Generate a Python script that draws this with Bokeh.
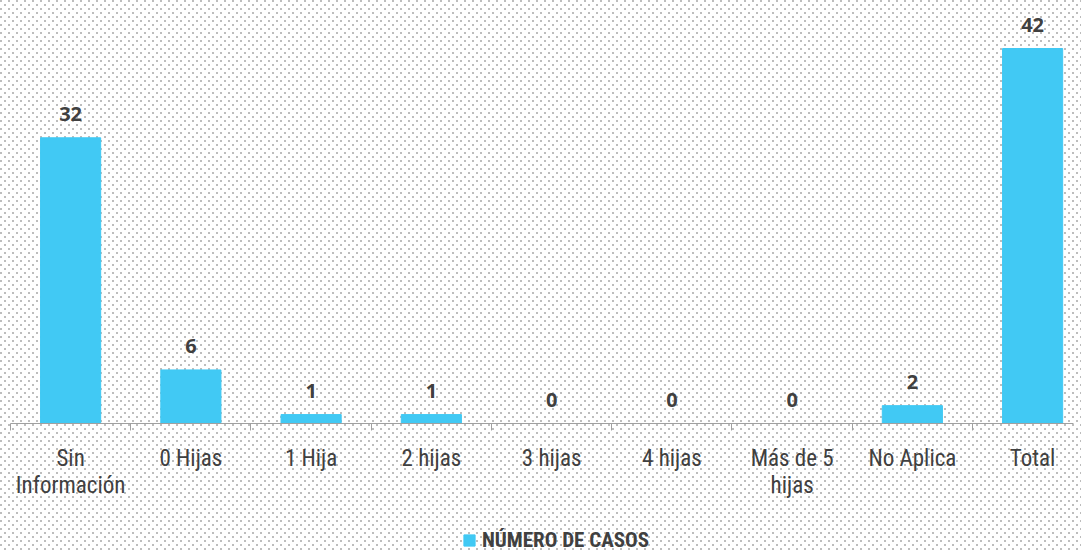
from urllib.parse import quote
from bokeh.plotting import figure
from bokeh.layouts import column
from bokeh.core.properties import value
from bokeh.models import (Range1d, FixedTicker, ColumnDataSource, LabelSet,
                          Legend, LegendItem)
from bokeh.embed import file_html
from bokeh.resources import INLINE

# ---- data ----
categories = ["Sin\nInformación", "0 Hijas", "1 Hija", "2 hijas", "3 hijas",
              "4 hijas", "Más de 5\nhijas", "No Aplica", "Total"]
values = [32, 6, 1, 1, 0, 0, 0, 2, 42]
series_name = "NÚMERO DE CASOS"

BAR = "#41C9F4"
TXT = "#404040"
COND = "Roboto Condensed"

xs = list(range(len(categories)))
src = ColumnDataSource(dict(x=xs, value=values, label=[str(v) for v in values]))

p = figure(width=1081, height=515, x_range=Range1d(-0.5, 8.34),
           y_range=Range1d(0, 46.48), output_backend="svg",
           toolbar_location=None, y_axis_location=None,
           min_border_left=10, min_border_right=8, min_border_top=8,
           min_border_bottom=92)
p.background_fill_color = None
p.border_fill_color = None
p.outline_line_color = None
p.grid.visible = False

r = p.vbar(x="x", top="value", width=0.5, source=src, color=BAR)

labels = LabelSet(x="x", y="value", text="label", source=src, y_offset=17,
                  text_align="center", text_baseline="alphabetic",
                  text_font=value("Open Sans"), text_font_style="bold",
                  text_font_size="20px", text_color=TXT)
p.add_layout(labels)

ax = p.xaxis[0]
ax.ticker = FixedTicker(ticks=xs, minor_ticks=[i - 0.5 for i in range(len(xs) + 1)])
ax.major_label_overrides = {i: c for i, c in zip(xs, categories)}
ax.major_tick_out = 0
ax.major_tick_in = 0
ax.minor_tick_out = 7
ax.minor_tick_in = 0
ax.minor_tick_line_color = "#a0a0a0"
ax.axis_line_color = "#a0a0a0"
ax.major_label_standoff = 14
ax.major_label_text_font = COND
ax.major_label_text_font_size = "23px"
ax.major_label_text_line_height = 1.02
ax.major_label_text_color = TXT

# legend strip below the chart (same series; its bars lie below this strip's y range)
p2 = figure(width=1081, height=37, x_range=Range1d(-0.5, 8.34), y_range=Range1d(50, 51),
            output_backend="svg", toolbar_location=None,
            x_axis_location=None, y_axis_location=None,
            min_border_left=0, min_border_right=0, min_border_top=0,
            min_border_bottom=0)
p2.background_fill_color = None
p2.border_fill_color = None
p2.outline_line_color = None
p2.grid.visible = False
r2 = p2.vbar(x="x", top="value", width=0.5, color=BAR, source=src)

legend = Legend(items=[LegendItem(label=series_name, renderers=[r2])],
                location=(452, 0), orientation="horizontal",
                border_line_color=None, background_fill_alpha=0,
                glyph_width=14, glyph_height=14, label_standoff=6,
                label_text_font=COND, label_text_font_style="bold",
                label_text_font_size="21px", label_text_color=TXT,
                label_text_line_height=1.0,
                padding=0, margin=0, spacing=0)
p2.add_layout(legend)

svg = ("<svg xmlns='http://www.w3.org/2000/svg' width='8' height='8'>"
       "<rect x='0' y='0' width='2' height='2' fill='#bdbdbd'/>"
       "<rect x='4' y='4' width='2' height='2' fill='#bdbdbd'/></svg>")
layout = column(p, p2, spacing=0,
                styles={"background-color": "white",
                        "background-image": f'url("data:image/svg+xml,{quote(svg)}")'})

open("out.html", "w").write(file_html(layout, INLINE))
